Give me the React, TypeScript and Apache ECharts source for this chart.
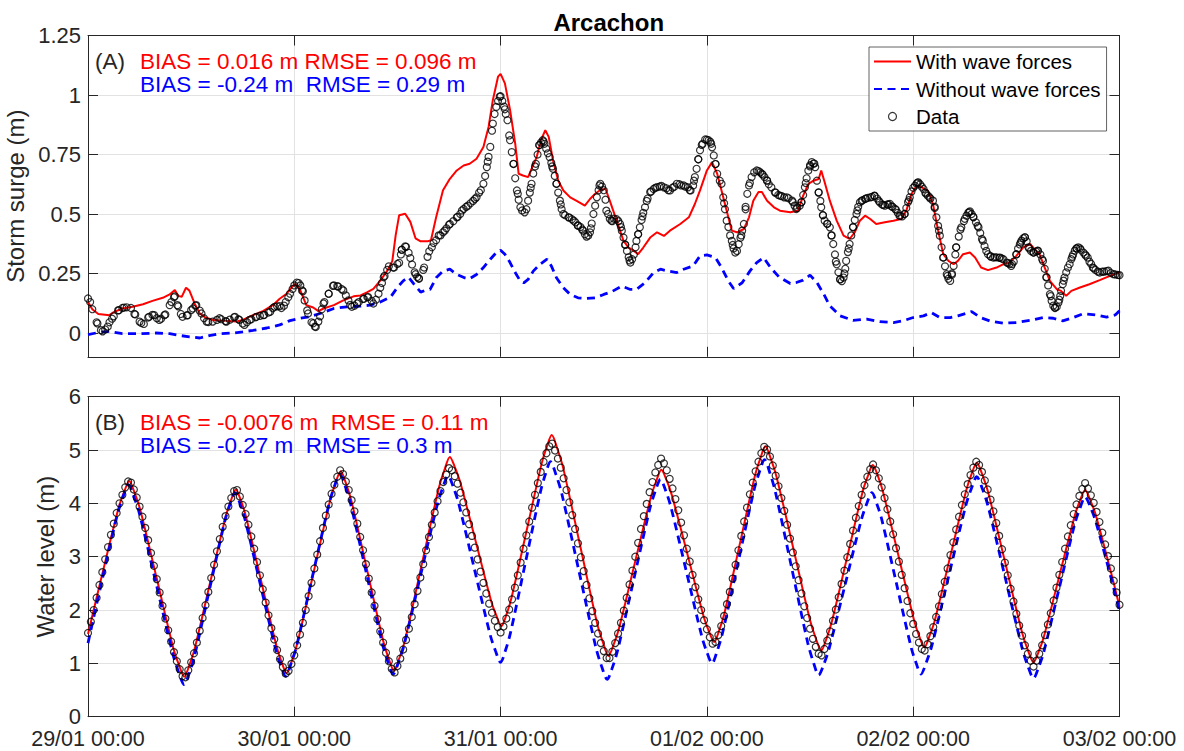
import React, { useEffect, useRef } from "react";
import * as echarts from "echarts";

// ---------- tick labels ----------
const xTickLabels = ["29/01 00:00", "30/01 00:00", "31/01 00:00", "01/02 00:00", "02/02 00:00", "03/02 00:00"];
const surgeTicks = [0, 0.25, 0.5, 0.75, 1, 1.25];
const levelTicks = [0, 1, 2, 3, 4, 5, 6];

// ---------- (A) storm surge ----------
// observed surge, one value every 30 min from 29/01 00:00
const surgeDataStepHours = 0.5;
const surgeData = [
  0.145, 0.10, 0.045, 0.012, 0.015, 0.045, 0.07, 0.095, 0.105, 0.108,
  0.105, 0.078, 0.048, 0.038, 0.065, 0.076, 0.062, 0.06, 0.078, 0.117,
  0.15, 0.112, 0.068, 0.074, 0.096, 0.115, 0.094, 0.062, 0.046, 0.048,
  0.055, 0.058, 0.05, 0.056, 0.066, 0.058, 0.04, 0.045, 0.058, 0.066,
  0.072, 0.076, 0.086, 0.104, 0.112, 0.105, 0.13, 0.165, 0.2, 0.21,
  0.175, 0.095, 0.045, 0.025, 0.07, 0.13, 0.165, 0.198, 0.197, 0.185,
  0.158, 0.118, 0.115, 0.13, 0.143, 0.15, 0.135, 0.14, 0.19, 0.24,
  0.28, 0.275, 0.29, 0.35, 0.362, 0.315, 0.255, 0.228, 0.265, 0.32,
  0.36, 0.39, 0.41, 0.43, 0.455, 0.47, 0.488, 0.515, 0.53, 0.545,
  0.563, 0.59, 0.627, 0.72, 0.85, 0.95, 0.995, 0.94, 0.83, 0.71,
  0.585, 0.515, 0.52, 0.61, 0.7, 0.79, 0.805, 0.755, 0.7, 0.627,
  0.54, 0.495, 0.485, 0.472, 0.452, 0.435, 0.405, 0.44, 0.535, 0.62,
  0.6, 0.5, 0.47, 0.478, 0.445, 0.37, 0.305, 0.33, 0.415, 0.49,
  0.555, 0.595, 0.61, 0.615, 0.612, 0.6, 0.61, 0.627, 0.62, 0.615,
  0.6, 0.64, 0.73, 0.795, 0.812, 0.795, 0.71, 0.64, 0.545, 0.445,
  0.37, 0.345, 0.41, 0.53, 0.63, 0.675, 0.68, 0.665, 0.64, 0.612,
  0.59, 0.577, 0.57, 0.566, 0.55, 0.525, 0.55, 0.63, 0.7, 0.712,
  0.59, 0.495, 0.458, 0.41, 0.3, 0.225, 0.25, 0.355, 0.445, 0.515,
  0.555, 0.565, 0.57, 0.576, 0.555, 0.538, 0.54, 0.532, 0.518, 0.492,
  0.5, 0.558, 0.61, 0.632, 0.615, 0.585, 0.565, 0.53, 0.43, 0.317,
  0.24, 0.25, 0.36, 0.435, 0.48, 0.508, 0.488, 0.45, 0.395, 0.345,
  0.322, 0.318, 0.316, 0.31, 0.294, 0.29, 0.33, 0.38, 0.402, 0.355,
  0.338, 0.345, 0.31, 0.235, 0.155, 0.105, 0.14, 0.22, 0.275, 0.32,
  0.355, 0.35, 0.33, 0.3, 0.272, 0.258, 0.258, 0.26, 0.252, 0.246,
  0.243,
];

// further observed surge readings at irregular times: [hours, m]
const surgeDataExtra = [
  [0.25, 0.13], [1.1, 0.04], [1.7, 0.007], [2.3, 0.027], [2.8, 0.06], [3.6, 0.096], [4.2, 0.107], [5.4, 0.08],
  [6.2, 0.042], [7.1, 0.068], [7.7, 0.075], [8.3, 0.055], [8.9, 0.075], [9.7, 0.13], [10.1, 0.154], [10.4, 0.117],
  [10.8, 0.08], [11.6, 0.075], [12.2, 0.103], [12.6, 0.117], [13.2, 0.082], [13.8, 0.048], [15.3, 0.062], [16.1, 0.048],
  [17.1, 0.068], [17.6, 0.055], [18.2, 0.034], [18.8, 0.055], [19.6, 0.068], [20.4, 0.075], [21.2, 0.089], [21.7, 0.11],
  [22.3, 0.113], [22.8, 0.115], [23.3, 0.15], [23.8, 0.185], [24.3, 0.212], [24.7, 0.2], [24.9, 0.179], [25.2, 0.137],
  [25.6, 0.082], [26.2, 0.041], [26.4, 0.027], [26.8, 0.048], [27.2, 0.1], [27.4, 0.124], [28.0, 0.165], [28.6, 0.2],
  [29.1, 0.195], [29.7, 0.179], [30.3, 0.137], [30.7, 0.11], [31.3, 0.124], [32.1, 0.144], [32.6, 0.151], [33.2, 0.124],
  [33.8, 0.165], [34.2, 0.21], [34.4, 0.234], [34.8, 0.265], [35.6, 0.275], [36.2, 0.295], [36.4, 0.33], [36.5, 0.35],
  [36.9, 0.364], [37.3, 0.337], [37.7, 0.288], [38.1, 0.247], [38.3, 0.235], [38.5, 0.23], [39.1, 0.275], [39.7, 0.343],
  [40.2, 0.378], [40.8, 0.41], [41.3, 0.423], [41.7, 0.44], [42.1, 0.458], [42.9, 0.486], [43.3, 0.5], [43.7, 0.521],
  [44.2, 0.535], [44.8, 0.555], [45.2, 0.57], [45.7, 0.6], [46.2, 0.66], [46.4, 0.697], [46.6, 0.74], [46.8, 0.782],
  [47.1, 0.88], [47.3, 0.92], [47.7, 0.975], [47.9, 0.993], [48.2, 0.975], [48.4, 0.951], [48.6, 0.92], [48.8, 0.894],
  [49.1, 0.81], [49.3, 0.76], [49.5, 0.711], [49.7, 0.65], [49.9, 0.599], [50.1, 0.56], [50.3, 0.528], [50.8, 0.507],
  [51.2, 0.556], [51.4, 0.59], [51.6, 0.627], [51.8, 0.67], [52.1, 0.711], [52.3, 0.75], [52.5, 0.789], [52.7, 0.8],
  [52.9, 0.81], [53.1, 0.795], [53.3, 0.775], [53.7, 0.739], [53.9, 0.715], [54.1, 0.69], [54.3, 0.66], [54.5, 0.627],
  [54.7, 0.59], [54.9, 0.556], [55.1, 0.52], [55.3, 0.5], [55.9, 0.486], [56.3, 0.478], [56.7, 0.465], [57.0, 0.451],
  [57.3, 0.445], [57.6, 0.43], [57.8, 0.415], [58.2, 0.41], [58.4, 0.423], [58.6, 0.46], [58.8, 0.5], [59.2, 0.57],
  [59.4, 0.6], [59.6, 0.627], [59.8, 0.615], [60.2, 0.56], [60.3, 0.514], [60.7, 0.48], [60.9, 0.472], [61.2, 0.48],
  [61.7, 0.47], [61.9, 0.458], [62.1, 0.43], [62.3, 0.401], [62.5, 0.372], [62.7, 0.345], [62.9, 0.318], [63.1, 0.296],
  [63.3, 0.31], [63.7, 0.36], [63.8, 0.387], [64.0, 0.415], [64.2, 0.444], [64.4, 0.475], [64.6, 0.505], [64.8, 0.528],
  [65.1, 0.565], [65.4, 0.592], [65.8, 0.605], [66.2, 0.613], [66.7, 0.618], [67.3, 0.608], [67.7, 0.599], [68.2, 0.615],
  [68.8, 0.625], [69.3, 0.62], [69.8, 0.612], [70.1, 0.599], [70.4, 0.62], [70.6, 0.655], [70.8, 0.69], [71.0, 0.73],
  [71.2, 0.768], [71.4, 0.79], [71.8, 0.813], [72.2, 0.81], [72.4, 0.803], [72.6, 0.78], [72.8, 0.746], [73.0, 0.71],
  [73.2, 0.669], [73.7, 0.627], [73.9, 0.57], [74.1, 0.52], [74.3, 0.472], [74.7, 0.41], [74.9, 0.387], [75.1, 0.355],
  [75.3, 0.338], [75.7, 0.373], [75.9, 0.4], [76.1, 0.43], [76.3, 0.458], [76.5, 0.52], [76.7, 0.585], [76.9, 0.62],
  [77.2, 0.655], [77.8, 0.683], [78.2, 0.675], [78.4, 0.669], [78.7, 0.655], [79.0, 0.641], [79.2, 0.625], [79.9, 0.591],
  [80.3, 0.58], [80.7, 0.575], [81.3, 0.57], [81.9, 0.556], [82.2, 0.535], [82.4, 0.521], [82.8, 0.535], [83.0, 0.549],
  [83.2, 0.58], [83.4, 0.612], [83.6, 0.65], [83.8, 0.683], [84.0, 0.705], [84.2, 0.718], [84.4, 0.712], [84.6, 0.697],
  [84.8, 0.64], [85.0, 0.591], [85.2, 0.555], [85.3, 0.528], [85.5, 0.495], [85.7, 0.472], [86.0, 0.46], [86.3, 0.444],
  [86.5, 0.41], [86.7, 0.374], [86.9, 0.33], [87.1, 0.289], [87.3, 0.255], [87.5, 0.226], [87.7, 0.218], [87.9, 0.233],
  [88.1, 0.27], [88.2, 0.303], [88.4, 0.34], [88.6, 0.374], [88.8, 0.41], [89.0, 0.444], [89.2, 0.475], [89.4, 0.5],
  [89.6, 0.53], [89.8, 0.549], [90.1, 0.558], [90.4, 0.563], [90.7, 0.568], [91.2, 0.572], [91.5, 0.577], [91.8, 0.565],
  [92.1, 0.549], [92.4, 0.54], [92.7, 0.535], [93.1, 0.54], [93.3, 0.542], [93.6, 0.53], [93.9, 0.521], [94.2, 0.505],
  [94.4, 0.493], [94.7, 0.49], [95.0, 0.5], [95.2, 0.525], [95.4, 0.55], [95.6, 0.57], [95.8, 0.595], [96.2, 0.619],
  [96.4, 0.628], [96.6, 0.633], [96.8, 0.625], [97.2, 0.605], [97.4, 0.59], [97.7, 0.577], [97.9, 0.57], [98.3, 0.556],
  [98.5, 0.525], [98.7, 0.486], [98.9, 0.45], [99.1, 0.409], [99.3, 0.36], [99.5, 0.317], [99.7, 0.28], [99.9, 0.247],
  [100.1, 0.228], [100.3, 0.219], [100.5, 0.245], [100.7, 0.282], [100.9, 0.33], [101.0, 0.36], [101.3, 0.405],
  [101.6, 0.444], [101.9, 0.47], [102.2, 0.493], [102.4, 0.505], [102.6, 0.511], [102.8, 0.5], [103.0, 0.486],
  [103.3, 0.465], [103.6, 0.444], [103.8, 0.42], [104.1, 0.388], [104.3, 0.365], [104.7, 0.331], [105.0, 0.322],
  [105.3, 0.317], [105.7, 0.318], [106.1, 0.317], [106.3, 0.313], [106.9, 0.296], [107.2, 0.29], [107.4, 0.282],
  [107.7, 0.3], [108.0, 0.331], [108.2, 0.355], [108.4, 0.372], [108.6, 0.388], [108.8, 0.398], [109.0, 0.402],
  [109.2, 0.385], [109.4, 0.36], [109.7, 0.345], [110.0, 0.338], [110.3, 0.342], [110.5, 0.346], [110.8, 0.33],
  [111.1, 0.303], [111.3, 0.27], [111.5, 0.233], [111.7, 0.2], [111.9, 0.163], [112.1, 0.135], [112.3, 0.115],
  [112.5, 0.107], [112.7, 0.11], [112.9, 0.128], [113.1, 0.155], [113.2, 0.177], [113.4, 0.205], [113.6, 0.233],
  [113.8, 0.255], [114.2, 0.289], [114.4, 0.31], [114.6, 0.33], [114.8, 0.346], [115.0, 0.356], [115.2, 0.36],
  [115.4, 0.356], [115.8, 0.338], [116.1, 0.325], [116.3, 0.317], [116.7, 0.29], [116.9, 0.275], [117.2, 0.265],
  [117.7, 0.254], [118.2, 0.258], [118.7, 0.262], [119.3, 0.247], [119.8, 0.244],
];

// model with wave forces: [hours since 29/01 00:00, surge m]
const surgeWithWaves = [
  [0, 0.13], [0.5, 0.1], [1.2, 0.08], [2.5, 0.075], [3, 0.088], [4, 0.103], [5.2, 0.11], [6.4, 0.121],
  [7.5, 0.135], [8.7, 0.148], [9.5, 0.162], [10.1, 0.181], [10.5, 0.156], [10.9, 0.152], [11.4, 0.19],
  [11.8, 0.178], [12.4, 0.124], [13, 0.082], [13.6, 0.066], [14.5, 0.055], [15.7, 0.052], [17.3, 0.048],
  [18, 0.055], [19.2, 0.075], [20.4, 0.093], [21.5, 0.117], [22.3, 0.144], [23.1, 0.165], [23.7, 0.192],
  [24.1, 0.206], [24.7, 0.179], [25.4, 0.117], [26.2, 0.107], [26.8, 0.092], [27.4, 0.103], [28.6, 0.117],
  [29.7, 0.137], [30.9, 0.154], [31.7, 0.158], [32.5, 0.172], [33.2, 0.185], [34, 0.22], [34.8, 0.261],
  [35.4, 0.302], [35.8, 0.412], [36.2, 0.495], [36.9, 0.501], [37.5, 0.467], [38.1, 0.398], [38.7, 0.385],
  [39.5, 0.385], [39.9, 0.39], [40.5, 0.486], [41.3, 0.6], [42.1, 0.648], [42.9, 0.683], [43.7, 0.704],
  [44.4, 0.711], [45.2, 0.732], [46, 0.782], [46.6, 0.866], [47.1, 0.979], [47.7, 1.077], [48, 1.089],
  [48.5, 1.049], [49.1, 0.937], [49.7, 0.796], [50.1, 0.669], [50.6, 0.662], [51.2, 0.655], [51.6, 0.69],
  [52.2, 0.739], [52.7, 0.81], [53.2, 0.852], [53.6, 0.824], [54.1, 0.725], [54.7, 0.641], [55.3, 0.599],
  [56.1, 0.57], [56.9, 0.554], [57.8, 0.535], [58.4, 0.563], [59, 0.585], [59.6, 0.601], [60.2, 0.606],
  [60.7, 0.556], [61.5, 0.472], [62.3, 0.387], [62.9, 0.359], [63.5, 0.345], [64, 0.331], [64.6, 0.359],
  [65.4, 0.401], [66.2, 0.423], [67, 0.408], [67.7, 0.43], [68.9, 0.458], [69.9, 0.486], [70.6, 0.542],
  [71.2, 0.599], [72, 0.683], [72.6, 0.718], [73.2, 0.669], [73.7, 0.599], [74.3, 0.514], [74.9, 0.43],
  [75.5, 0.423], [76.3, 0.437], [76.9, 0.486], [77.4, 0.556], [78, 0.592], [78.4, 0.592], [79, 0.556],
  [79.8, 0.528], [80.5, 0.514], [81.7, 0.507], [82.6, 0.514], [83.2, 0.577], [83.8, 0.626], [84.4, 0.64],
  [85, 0.647], [85.3, 0.683], [85.7, 0.633], [86.3, 0.556], [87.1, 0.472], [87.9, 0.409], [88.6, 0.395],
  [89.2, 0.423], [89.8, 0.472], [90.4, 0.493], [91, 0.479], [91.7, 0.458], [92.7, 0.465], [93.7, 0.472],
  [94.6, 0.479], [95.2, 0.514], [95.8, 0.584], [96.4, 0.619], [97, 0.612], [97.7, 0.598], [98.3, 0.542],
  [98.9, 0.43], [99.5, 0.331], [100.1, 0.303], [100.7, 0.289], [101.2, 0.303], [101.8, 0.331], [102.6, 0.338],
  [103.2, 0.317], [103.9, 0.275], [104.7, 0.264], [105.7, 0.275], [106.5, 0.289], [107.2, 0.296], [108, 0.324],
  [108.8, 0.36], [109.6, 0.374], [110.1, 0.353], [110.7, 0.331], [111.3, 0.275], [111.9, 0.219], [112.7, 0.184],
  [113.2, 0.177], [113.8, 0.156], [114.4, 0.177], [115.4, 0.191], [116.5, 0.205], [117.7, 0.222], [118.9, 0.24],
  [120, 0.254],
];

// model without wave forces
const surgeWithoutWaves = [
  [0, -0.007], [1.3, 0.003], [2.5, 0.007], [4, -0.003], [6, -0.003], [7.9, 0], [9.5, -0.003], [10.6, -0.01],
  [11.8, -0.016], [13, -0.021], [14.1, -0.011], [15.3, -0.003], [16.9, 0], [18, 0.005], [19.2, 0.011],
  [20.8, 0.021], [22.3, 0.034], [23.5, 0.052], [24.7, 0.062], [25.8, 0.069], [27, 0.082], [28.6, 0.103],
  [30.1, 0.11], [31.7, 0.113], [32.8, 0.117], [34, 0.13], [35.2, 0.151], [36, 0.192], [36.7, 0.22],
  [37.3, 0.234], [37.9, 0.206], [38.7, 0.172], [39.3, 0.18], [39.8, 0.183], [40.5, 0.232], [41.3, 0.26],
  [42.1, 0.268], [42.9, 0.246], [43.8, 0.232], [44.4, 0.228], [45.2, 0.246], [46, 0.275], [46.8, 0.31],
  [47.5, 0.338], [48, 0.348], [48.5, 0.331], [49.1, 0.296], [49.7, 0.254], [50.3, 0.218], [50.7, 0.211],
  [51.2, 0.225], [51.8, 0.26], [52.6, 0.289], [53.4, 0.31], [53.9, 0.282], [54.5, 0.232], [55.3, 0.19],
  [56.1, 0.162], [57, 0.148], [58, 0.145], [59, 0.148], [60, 0.162], [60.9, 0.173], [62.1, 0.197],
  [63.1, 0.183], [63.8, 0.183], [64.8, 0.211], [65.8, 0.254], [66.6, 0.268], [67.5, 0.26], [68.5, 0.254],
  [69.3, 0.268], [70.4, 0.282], [71.2, 0.324], [72, 0.328], [73, 0.317], [73.7, 0.275], [74.5, 0.218],
  [75.1, 0.187], [76.1, 0.211], [77, 0.26], [77.8, 0.296], [78.6, 0.317], [79.4, 0.275], [80.4, 0.235],
  [81.7, 0.208], [82.4, 0.212], [83.2, 0.222], [84, 0.243], [84.8, 0.212], [85.6, 0.163], [86.3, 0.114],
  [87.5, 0.072], [89, 0.053], [90.6, 0.058], [92.1, 0.048], [93.7, 0.044], [94.8, 0.051], [96, 0.065],
  [97.2, 0.072], [98.1, 0.086], [99.1, 0.065], [100.3, 0.065], [101.2, 0.072], [102.8, 0.09], [103.8, 0.065],
  [104.9, 0.051], [106.5, 0.041], [108, 0.044], [109.6, 0.053], [111.1, 0.065], [112.3, 0.062], [113.4, 0.051],
  [114.6, 0.065], [115.8, 0.081], [117.3, 0.076], [118.5, 0.067], [119.5, 0.076], [120, 0.093],
];

// ---------- (B) water level ----------
// observed water level, one value every 20 min from 29/01 00:00
const levelDataStepHours = 1 / 3;
const levelData = [
  1.57, 1.78, 2.00, 2.23, 2.47, 2.71, 2.95, 3.18, 3.41, 3.62, 3.82, 4.00, 4.16, 4.30, 4.41,
  4.39, 4.26, 4.11, 3.94, 3.75, 3.54, 3.31, 3.07, 2.83, 2.58, 2.33, 2.08, 1.84, 1.62, 1.41, 1.21, 1.04, 0.89, 0.76,
  0.74, 0.87, 1.02, 1.19, 1.39, 1.61, 1.85, 2.09, 2.34, 2.60, 2.85, 3.10, 3.33, 3.56, 3.76, 3.94, 4.10, 4.23,
  4.25, 4.13, 3.97, 3.80, 3.60, 3.38, 3.15, 2.90, 2.65, 2.39, 2.14, 1.90, 1.66, 1.45, 1.25, 1.08, 0.93, 0.81,
  0.86, 0.99, 1.15, 1.34, 1.54, 1.76, 2.00, 2.26, 2.51, 2.78, 3.04, 3.29, 3.54, 3.77, 3.98, 4.18, 4.35, 4.50, 4.62,
  4.55, 4.41, 4.25, 4.06, 3.85, 3.62, 3.37, 3.12, 2.86, 2.59, 2.33, 2.08, 1.83, 1.60, 1.39, 1.20, 1.04, 0.90,
  0.83, 0.95, 1.09, 1.26, 1.44, 1.65, 1.87, 2.11, 2.36, 2.61, 2.86, 3.12, 3.37, 3.60, 3.83, 4.04, 4.23, 4.40, 4.54, 4.66,
  4.62, 4.51, 4.37, 4.20, 4.02, 3.83, 3.61, 3.39, 3.17, 2.95, 2.72, 2.51, 2.31, 2.12, 1.95, 1.80, 1.68, 1.58,
  1.69, 1.84, 2.01, 2.20, 2.42, 2.65, 2.89, 3.15, 3.40, 3.66, 3.92, 4.16, 4.38, 4.59, 4.78, 4.94, 5.07,
  5.12, 4.99, 4.84, 4.67, 4.47, 4.25, 4.02, 3.78, 3.52, 3.25, 2.99, 2.73, 2.47, 2.22, 1.98, 1.76, 1.56, 1.38, 1.23, 1.10,
  1.10, 1.22, 1.38, 1.56, 1.76, 1.99, 2.23, 2.48, 2.74, 3.00, 3.26, 3.52, 3.76, 3.99, 4.21, 4.40, 4.58, 4.72, 4.84,
  4.75, 4.62, 4.46, 4.28, 4.08, 3.87, 3.64, 3.40, 3.15, 2.91, 2.66, 2.43, 2.20, 2.00, 1.81, 1.64, 1.49, 1.37,
  1.40, 1.53, 1.70, 1.89, 2.11, 2.34, 2.59, 2.85, 3.12, 3.39, 3.66, 3.92, 4.17, 4.39, 4.60, 4.78, 4.94, 5.06,
  5.01, 4.88, 4.71, 4.52, 4.32, 4.10, 3.86, 3.60, 3.34, 3.08, 2.82, 2.56, 2.31, 2.07, 1.85, 1.65, 1.46, 1.31, 1.18,
  1.15, 1.27, 1.43, 1.60, 1.80, 2.01, 2.24, 2.49, 2.74, 2.99, 3.24, 3.49, 3.73, 3.95, 4.16, 4.34, 4.50, 4.64,
  4.73, 4.62, 4.47, 4.30, 4.10, 3.89, 3.66, 3.42, 3.16, 2.91, 2.66, 2.41, 2.17, 1.94, 1.74, 1.55, 1.39, 1.27,
  1.24, 1.36, 1.51, 1.68, 1.87, 2.07, 2.30, 2.53, 2.78, 3.03, 3.27, 3.51, 3.75, 3.97, 4.17, 4.36, 4.53, 4.67, 4.78,
  4.72, 4.59, 4.43, 4.26, 4.07, 3.85, 3.63, 3.39, 3.14, 2.89, 2.65, 2.40, 2.16, 1.93, 1.71, 1.52, 1.34, 1.18, 1.05, 0.94,
  1.05, 1.18, 1.34, 1.53, 1.73, 1.94, 2.18, 2.42, 2.66, 2.90, 3.15, 3.38, 3.59, 3.80, 3.98, 4.14, 4.27, 4.38,
  4.28, 4.15, 4.01, 3.84, 3.65, 3.45, 3.23, 3.01, 2.78, 2.55, 2.33, 2.10,
];

const levelWithWaves = [
  [0, 1.55], [1.55, 2.60], [3.5, 3.88], [4.15, 4.19], [4.8, 4.42],
  [5.44, 4.19], [6.08, 3.88], [8.0, 2.59], [9.92, 1.29], [10.56, 0.98], [11.2, 0.75],
  [11.8, 0.97], [12.4, 1.27], [14.2, 2.51], [16.0, 3.74], [16.6, 4.04], [17.2, 4.26],
  [17.79, 4.05], [18.38, 3.75], [20.15, 2.54], [21.92, 1.33], [22.51, 1.03], [23.1, 0.82],
  [23.73, 1.05], [24.36, 1.38], [26.25, 2.71], [28.14, 4.04], [28.77, 4.37], [29.4, 4.6],
  [30.02, 4.37], [30.64, 4.05], [32.5, 2.73], [34.36, 1.41], [34.98, 1.09], [35.6, 0.86],
  [36.25, 1.11], [36.9, 1.45], [38.85, 2.87], [40.8, 4.28], [41.45, 4.62], [42.1, 4.87],
  [42.7, 4.67], [43.3, 4.40], [45.1, 3.29], [46.9, 2.17], [47.5, 1.90], [48.1, 1.70],
  [48.69, 1.92], [49.27, 2.23], [51.03, 3.49], [52.78, 4.75], [53.37, 5.06], [53.95, 5.28],
  [54.61, 5.02], [55.27, 4.67], [57.25, 3.21], [59.23, 1.75], [59.89, 1.40], [60.55, 1.14],
  [61.17, 1.36], [61.78, 1.66], [63.63, 2.89], [65.47, 4.11], [66.09, 4.41], [66.7, 4.63],
  [67.32, 4.43], [67.93, 4.15], [69.78, 3.02], [71.62, 1.88], [72.24, 1.60], [72.85, 1.40],
  [73.45, 1.63], [74.04, 1.94], [75.83, 3.24], [77.61, 4.53], [78.21, 4.84], [78.8, 5.07],
  [79.45, 4.83], [80.1, 4.50], [82.05, 3.16], [84.0, 1.81], [84.65, 1.48], [85.3, 1.24],
  [85.9, 1.46], [86.5, 1.76], [88.3, 2.98], [90.1, 4.21], [90.7, 4.50], [91.3, 4.72],
  [91.9, 4.51], [92.5, 4.21], [94.3, 3.01], [96.1, 1.81], [96.7, 1.51], [97.3, 1.30],
  [97.91, 1.52], [98.52, 1.81], [100.35, 3.03], [102.18, 4.25], [102.79, 4.55], [103.4, 4.76],
  [104.06, 4.53], [104.72, 4.21], [106.7, 2.89], [108.68, 1.57], [109.34, 1.25], [110.0, 1.02],
  [110.6, 1.22], [111.2, 1.50], [113.0, 2.64], [114.8, 3.77], [115.4, 4.05], [116.0, 4.25],
  [116.62, 4.05], [117.24, 3.78], [119.1, 2.65], [120, 2.06],
];

const levelWithoutWaves = [
  [0, 1.38], [1.45, 2.43], [3.4, 3.78], [4.05, 4.11], [4.7, 4.35],
  [5.35, 4.12], [6.0, 3.80], [7.95, 2.48], [9.9, 1.16], [10.55, 0.83], [11.2, 0.6],
  [11.79, 0.82], [12.38, 1.13], [14.15, 2.40], [15.92, 3.67], [16.51, 3.98], [17.1, 4.2],
  [17.69, 3.99], [18.28, 3.69], [20.05, 2.48], [21.82, 1.27], [22.41, 0.97], [23.0, 0.76],
  [23.63, 1.00], [24.26, 1.32], [26.15, 2.66], [28.04, 3.99], [28.67, 4.32], [29.3, 4.55],
  [29.92, 4.32], [30.54, 4.00], [32.4, 2.68], [34.26, 1.36], [34.88, 1.03], [35.5, 0.8],
  [36.14, 1.03], [36.78, 1.35], [38.7, 2.66], [40.62, 3.97], [41.26, 4.29], [41.9, 4.52],
  [42.51, 4.30], [43.12, 4.00], [44.95, 2.77], [46.78, 1.54], [47.39, 1.24], [48.0, 1.02],
  [48.58, 1.25], [49.16, 1.58], [50.9, 2.90], [52.64, 4.22], [53.22, 4.55], [53.8, 4.78],
  [54.46, 4.53], [55.12, 4.18], [57.1, 2.74], [59.08, 1.30], [59.74, 0.95], [60.4, 0.7],
  [61.02, 0.93], [61.64, 1.26], [63.5, 2.58], [65.36, 3.90], [65.98, 4.22], [66.6, 4.45],
  [67.2, 4.24], [67.8, 3.94], [69.6, 2.73], [71.4, 1.51], [72.0, 1.21], [72.6, 1.0],
  [73.21, 1.24], [73.82, 1.57], [75.65, 2.91], [77.48, 4.25], [78.09, 4.58], [78.7, 4.82],
  [79.33, 4.57], [79.96, 4.22], [81.85, 2.80], [83.74, 1.38], [84.37, 1.03], [85.0, 0.78],
  [85.62, 0.99], [86.24, 1.29], [88.1, 2.49], [89.96, 3.69], [90.58, 3.99], [91.2, 4.2],
  [91.77, 3.99], [92.34, 3.70], [94.05, 2.50], [95.76, 1.30], [96.33, 1.01], [96.9, 0.8],
  [97.55, 1.03], [98.2, 1.35], [100.15, 2.65], [102.1, 3.95], [102.75, 4.27], [103.4, 4.5],
  [104.06, 4.27], [104.72, 3.94], [106.7, 2.61], [108.68, 1.28], [109.34, 0.95], [110.0, 0.72],
  [110.6, 0.93], [111.2, 1.22], [113.0, 2.42], [114.8, 3.62], [115.4, 3.91], [116.0, 4.12],
  [116.62, 3.93], [117.24, 3.66], [119.1, 2.55], [120, 1.98],
];

// ---------- texts ----------
const titleText = "Arcachon";
const seriesNames = ["With wave forces", "Without wave forces", "Data"];
const NB2 = "\u00a0 "; // double space that survives SVG whitespace collapsing
const statsA = ["BIAS = 0.016 m RMSE = 0.096 m", "BIAS = -0.24 m" + NB2 + "RMSE = 0.29 m"];
const statsB = ["BIAS = -0.0076 m" + NB2 + "RMSE = 0.11 m", "BIAS = -0.27 m" + NB2 + "RMSE = 0.3 m"];

// ---------- styling ----------
const FONT = "'Liberation Sans', Arial, Helvetica, sans-serif";
const AXIS = "#262626";
const GRIDC = "#e2e2e2";
const RED = "#ff0000";
const BLUE = "#0000ff";

const PLOT_LEFT = 88;
const PLOT_W = 1031.5;

function xAxisCfg(gridIndex: number, position: string, labels: boolean, split: boolean) {
  return {
    type: "value", gridIndex, position, min: 0, max: 120, interval: 24,
    axisLine: { show: true, onZero: false, lineStyle: { color: AXIS, width: 1 } },
    axisTick: { show: true, inside: true, length: 10, lineStyle: { color: AXIS, width: 1 } },
    axisLabel: {
      show: labels, color: AXIS, fontSize: 21.5, fontFamily: FONT, margin: 11.5,
      showMinLabel: true, showMaxLabel: true,
      formatter: (v: number) => xTickLabels[Math.round(v / 24)] ?? "",
    },
    splitLine: { show: split, lineStyle: { color: GRIDC, width: 1 } },
  };
}

function yAxisCfg(gridIndex: number, position: string, min: number, max: number, ticks: number[], main: boolean, name: string, nameGap: number) {
  return {
    type: "value", gridIndex, position, min, max,
    axisLine: { show: true, onZero: false, lineStyle: { color: AXIS, width: 1 } },
    axisTick: { show: true, inside: true, length: 10, customValues: ticks, lineStyle: { color: AXIS, width: 1 } },
    axisLabel: {
      show: main, customValues: ticks, color: AXIS, fontSize: 22, fontFamily: FONT, margin: 7,
      formatter: (v: number) => String(Math.round(v * 100) / 100),
    },
    splitLine: { show: main, lineStyle: { color: GRIDC, width: 1 } },
    name: main ? name : "",
    nameLocation: "middle",
    nameGap,
    nameTextStyle: { color: AXIS, fontSize: 24, fontFamily: FONT },
  };
}

function buildOption() {
  const surgeObs = surgeData
    .map((v, i) => [i * surgeDataStepHours, v])
    .concat(surgeDataExtra)
    .sort((a, b) => a[0] - b[0]);
  const levelObs = levelData.map((v, i) => [i * levelDataStepHours, v]);
  const redLine = { color: RED, width: 2 };
  const blueLine = { color: BLUE, width: 2.8, type: [8, 5.5] };
  const circle = { color: "rgba(0,0,0,0)", borderColor: "#000000", borderWidth: 1.2 };
  const txt = (x: number, y: number, text: string, fill: string) => ({
    type: "text", x, y, z: 100,
    style: { text, fill, fontSize: 22.5, fontFamily: FONT, verticalAlign: "middle", align: "left" },
  });

  return {
    animation: false,
    backgroundColor: "#ffffff",
    title: {
      text: titleText, left: PLOT_LEFT + PLOT_W / 2, top: 5, textAlign: "center",
      textStyle: { fontSize: 24, fontWeight: "bold", color: "#000", fontFamily: FONT },
    },
    legend: {
      orient: "vertical", left: 869, top: 47, z: 50,
      backgroundColor: "#ffffff", borderColor: "#3a3a3a", borderWidth: 0.8,
      padding: [4, 6, 4, 4], itemGap: 6.5, itemWidth: 37, itemHeight: 8,
      selectedMode: false,
      textStyle: { fontSize: 20.5, lineHeight: 20.5, color: "#000", fontFamily: FONT },
      data: [
        { name: seriesNames[0], itemStyle: { opacity: 0 } },
        { name: seriesNames[1], itemStyle: { opacity: 0 } },
        { name: seriesNames[2], icon: "circle", itemStyle: circle },
      ],
    },
    grid: [
      { left: PLOT_LEFT, top: 35.5, width: PLOT_W, height: 321.3, outerBoundsMode: "none", containLabel: false },
      { left: PLOT_LEFT, top: 396.7, width: PLOT_W, height: 320, outerBoundsMode: "none", containLabel: false },
    ],
    xAxis: [
      xAxisCfg(0, "bottom", false, true),
      xAxisCfg(0, "top", false, false),
      xAxisCfg(1, "bottom", true, true),
      xAxisCfg(1, "top", false, false),
    ],
    yAxis: [
      yAxisCfg(0, "left", -0.1, 1.25, surgeTicks, true, "Storm surge (m)", 49),
      yAxisCfg(0, "right", -0.1, 1.25, surgeTicks, false, "", 0),
      yAxisCfg(1, "left", 0, 6, levelTicks, true, "Water level (m)", 19.5),
      yAxisCfg(1, "right", 0, 6, levelTicks, false, "", 0),
    ],
    graphic: [
      txt(95, 61.5, "(A)", AXIS),
      txt(140, 61.5, statsA[0], RED),
      txt(140, 84.3, statsA[1], BLUE),
      txt(95, 422.5, "(B)", AXIS),
      txt(140, 422.5, statsB[0], RED),
      txt(140, 445.3, statsB[1], BLUE),
    ],
    series: [
      { name: seriesNames[0], type: "line", xAxisIndex: 0, yAxisIndex: 0, data: surgeWithWaves, symbol: "none", lineStyle: redLine, itemStyle: { color: RED }, z: 3, silent: true },
      { name: seriesNames[1], type: "line", xAxisIndex: 0, yAxisIndex: 0, data: surgeWithoutWaves, symbol: "none", lineStyle: blueLine, itemStyle: { color: BLUE }, z: 3, silent: true },
      { name: seriesNames[2], type: "scatter", xAxisIndex: 0, yAxisIndex: 0, data: surgeObs, symbol: "circle", symbolSize: 7, itemStyle: circle, z: 4, silent: true },
      { name: seriesNames[0], type: "line", xAxisIndex: 2, yAxisIndex: 2, data: levelWithWaves, symbol: "none", smooth: 0.3, lineStyle: redLine, itemStyle: { color: RED }, z: 3, silent: true },
      { name: seriesNames[1], type: "line", xAxisIndex: 2, yAxisIndex: 2, data: levelWithoutWaves, symbol: "none", smooth: 0.3, lineStyle: blueLine, itemStyle: { color: BLUE }, z: 3, silent: true },
      { name: seriesNames[2], type: "scatter", xAxisIndex: 2, yAxisIndex: 2, data: levelObs, symbol: "circle", symbolSize: 7, itemStyle: circle, z: 4, silent: true },
    ],
  };
}

export default function App() {
  const ref = useRef<HTMLDivElement>(null);
  useEffect(() => {
    if (!ref.current) return;
    const chart = echarts.init(ref.current, null, { renderer: "svg" });
    chart.setOption(buildOption() as any);
    return () => chart.dispose();
  }, []);
  return (
    <div
      ref={ref}
      style={{ position: "fixed", left: 0, top: 0, width: 1184, height: 751, background: "#ffffff" }}
    />
  );
}
